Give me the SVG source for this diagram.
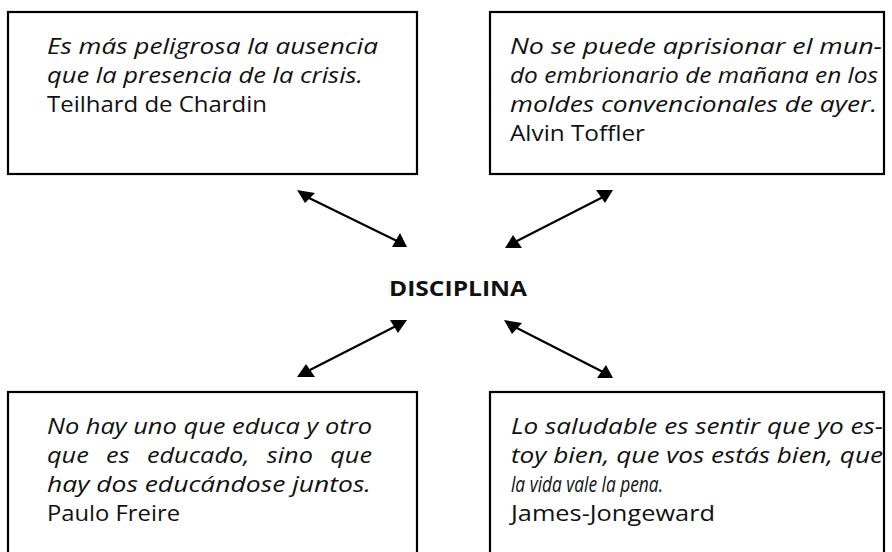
<svg xmlns="http://www.w3.org/2000/svg" width="892" height="552" viewBox="0 0 892 552">
<style>
.box{fill:#fff;stroke:#000;stroke-width:2.2}
.t{font-family:"Open Sans","Noto Sans","DejaVu Sans",sans-serif;font-size:21px;fill:#111}
.i{font-style:italic}
.b{font-weight:bold}
.ln{stroke:#000;stroke-width:2.2;fill:none}
.hd{fill:#000}
</style>
<rect width="892" height="552" fill="#fff"/>
<g id="quote-chardin">
<rect class="box" x="8" y="12" width="409" height="162"/>
<text class="t i" x="47" y="54" textLength="331" lengthAdjust="spacingAndGlyphs">Es más peligrosa la ausencia</text>
<text class="t i" x="47" y="83" textLength="316" lengthAdjust="spacingAndGlyphs">que la presencia de la crisis.</text>
<text class="t" x="47" y="112" textLength="220" lengthAdjust="spacingAndGlyphs">Teilhard de Chardin</text>
</g>
<g id="quote-toffler">
<rect class="box" x="490" y="12" width="394" height="162"/>
<text class="t i" x="510" y="54" textLength="372" lengthAdjust="spacingAndGlyphs">No se puede aprisionar el mun-</text>
<text class="t i" x="510" y="83" textLength="368" lengthAdjust="spacingAndGlyphs">do embrionario de mañana en los</text>
<text class="t i" x="510" y="112" textLength="367" lengthAdjust="spacingAndGlyphs">moldes convencionales de ayer.</text>
<text class="t" x="510" y="141" textLength="135" lengthAdjust="spacingAndGlyphs">Alvin Toffler</text>
</g>
<g id="center">
<text class="t b" x="389" y="296" textLength="138" lengthAdjust="spacingAndGlyphs">DISCIPLINA</text>
</g>
<g id="quote-freire">
<rect class="box" x="8" y="392" width="409" height="170"/>
<text class="t i" x="47" y="434" textLength="325" lengthAdjust="spacingAndGlyphs">No hay uno que educa y otro</text>
<text class="t i" x="47" y="463" textLength="325" lengthAdjust="spacingAndGlyphs" style="word-spacing:9px">que es educado, sino que</text>
<text class="t i" x="47" y="492" textLength="324" lengthAdjust="spacingAndGlyphs">hay dos educándose juntos.</text>
<text class="t" x="47" y="521" textLength="133" lengthAdjust="spacingAndGlyphs">Paulo Freire</text>
</g>
<g id="quote-jongeward">
<rect class="box" x="490" y="392" width="394" height="170"/>
<text class="t i" x="511" y="434" textLength="372" lengthAdjust="spacingAndGlyphs">Lo saludable es sentir que yo es-</text>
<text class="t i" x="511" y="463" textLength="372" lengthAdjust="spacingAndGlyphs">toy bien, que vos estás bien, que</text>
<text class="t i" x="511" y="492" textLength="152" lengthAdjust="spacingAndGlyphs">la vida vale la pena.</text>
<text class="t" x="511" y="521" textLength="204" lengthAdjust="spacingAndGlyphs">James-Jongeward</text>
</g>
<g id="connectors">
<line class="ln" x1="305" y1="196" x2="399" y2="242"/>
<polygon class="hd" points="297,190 315,193 305,203"/>
<polygon class="hd" points="392,247 407,247 400,233"/>
<line class="ln" x1="605" y1="196" x2="513" y2="243"/>
<polygon class="hd" points="596,190 613,190 605,203"/>
<polygon class="hd" points="505,248 522,248 513,235"/>
<line class="ln" x1="398" y1="325" x2="306" y2="372"/>
<polygon class="hd" points="390,320 407,320 398,333"/>
<polygon class="hd" points="297,377 315,377 306,364"/>
<line class="ln" x1="511" y1="325" x2="605" y2="373"/>
<polygon class="hd" points="504,320 522,323 512,334"/>
<polygon class="hd" points="597,378 613,378 606,365"/>
</g>
</svg>
